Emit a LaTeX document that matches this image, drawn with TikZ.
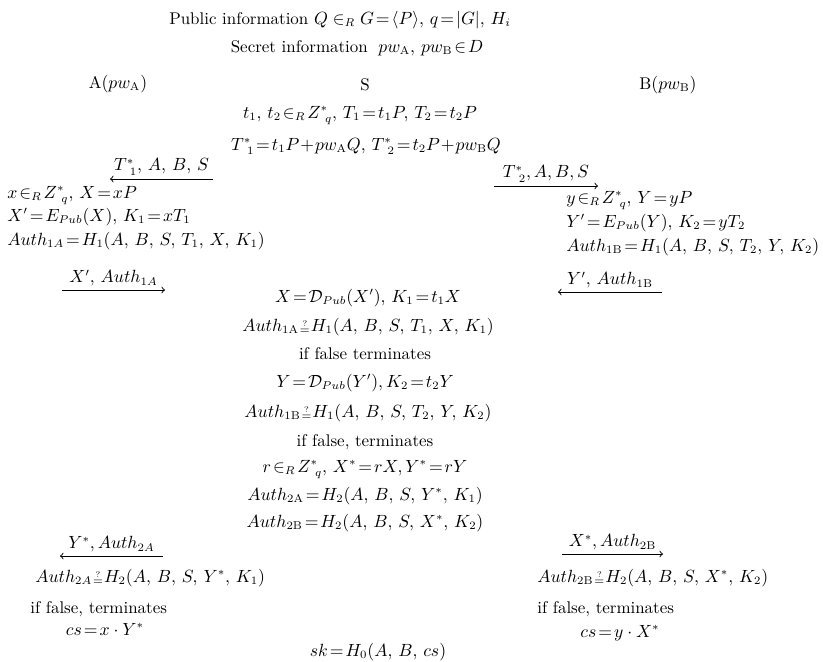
\documentclass[tikz,border=0pt]{standalone}
\usepackage{amsmath}
\tikzset{
  txt/.style={inner sep=0pt, anchor=base, font=\fontsize{10.5}{12}\selectfont},
  lefttxt/.style={txt, anchor=base west},
  msg/.style={->, line width=0.6pt},
  msglabel/.style={above=2pt, inner sep=0pt, font=\fontsize{10.5}{12}\selectfont}
}
\newcommand{\chkeq}{{\mkern1mu\lower0.3ex\hbox{$\scriptstyle\overset{?}{=}$}\mkern1mu}}
\newcommand{\inR}{\in_{R}}

\begin{document}
\begin{tikzpicture}[x=0.62pt, y=-0.62pt]
  \useasboundingbox (0,0) rectangle (823,661);
  % header
  \node[txt] (pub) at (340,24) {Public information \(Q\inR G\!=\!\langle P\rangle,\,q\!=\!|G|,\,H_i\)};
  \node[txt] (sec) at (357,52) {Secret information \(\;pw_{\mathrm{A}},\,pw_{\mathrm{B}}\!\in\! D\)};
  \node[txt] (pA) at (118,88) {A\((pw_{\mathrm{A}})\)};
  \node[txt] (pS) at (365,90) {S};
  \node[txt] (pB) at (668,89) {B\((pw_{\mathrm{B}})\)};
  \node[txt] (s1) at (360,118) {\(t_1,\,t_2\!\inR\! Z^*_{\ q},\,T_1\!=\!t_1P,\,T_2\!=\!t_2P\)};
  \node[txt] (s2) at (366,150) {\(T^*_{\ 1}\!=\!t_1P\!+\!pw_{\mathrm{A}}Q,\,T^*_{\ 2}\!=\!t_2P\!+\!pw_{\mathrm{B}}Q\)};

  % first round
  \coordinate (m1s) at (213,179);
  \coordinate (m1e) at (110,179);
  \draw[msg] (m1s) -- node[msglabel] (m1l) {\(T^*_{\ 1},\,A,\,B,\,S\)} (m1e);
  \coordinate (m2s) at (494,186);
  \coordinate (m2e) at (598,186);
  \draw[msg] (m2s) -- node[msglabel] (m2l) {\(T^*_{\ 2},A,B,S\)} (m2e);

  \node[lefttxt] (a1) at (7,198) {\(x\!\inR\! Z^*_{\ q},\,X\!=\!xP\)};
  \node[lefttxt] (a2) at (7,221) {\(X'\!=\!E_{Pub}(X),\,K_1\!=\!xT_1\)};
  \node[lefttxt] (a3) at (7,245) {\(Auth_{1A}\!=\!H_1(A,\,B,\,S,\,T_1,\,X,\,K_1)\)};
  \node[lefttxt] (b1) at (566,203) {\(y\!\inR\! Z^*_{\ q},\,Y\!=\!yP\)};
  \node[lefttxt] (b2) at (566,227) {\(Y'\!=\!E_{Pub}(Y),\,K_2\!=\!yT_2\)};
  \node[lefttxt] (b3) at (566,251) {\(Auth_{1\mathrm{B}}\!=\!H_1(A,\,B,\,S,\,T_2,\,Y,\,K_2)\)};

  % second round
  \coordinate (m3s) at (62,290);
  \coordinate (m3e) at (165,290);
  \draw[msg] (m3s) -- node[msglabel] (m3l) {\(X',\,Auth_{1A}\)} (m3e);
  \coordinate (m4s) at (662,292);
  \coordinate (m4e) at (558,292);
  \draw[msg] (m4s) -- node[msglabel] (m4l) {\(Y',\,Auth_{1\mathrm{B}}\)} (m4e);

  % server checks
  \node[txt] (c1) at (368,302) {\(X\!=\!\mathcal{D}_{Pub}(X'),\,K_1\!=\!t_1X\)};
  \node[txt] (c2) at (368,331) {\(Auth_{1\mathrm{A}}\chkeq H_1(A,\,B,\,S,\,T_1,\,X,\,K_1)\)};
  \node[txt] (c3) at (365,359) {if false terminates};
  \node[txt] (c4) at (365,387) {\(Y\!=\!\mathcal{D}_{Pub}(Y'),K_2\!=\!t_2Y\)};
  \node[txt] (c5) at (368,417) {\(Auth_{1\mathrm{B}}\chkeq H_1(A,\,B,\,S,\,T_2,\,Y,\,K_2)\)};
  \node[txt] (c6) at (365,446) {if false, terminates};
  \node[txt] (c7) at (365,472) {\(r\!\inR\! Z^*_{\ q},\,X^*\!=\!rX,Y^*\!=\!rY\)};
  \node[txt] (c8) at (365,500) {\(Auth_{2\mathrm{A}}\!=\!H_2(A,\,B,\,S,\,Y^*,\,K_1)\)};
  \node[txt] (c9) at (365,527) {\(Auth_{2\mathrm{B}}\!=\!H_2(A,\,B,\,S,\,X^*,\,K_2)\)};

  % third round
  \coordinate (m5s) at (163,556);
  \coordinate (m5e) at (60,556);
  \draw[msg] (m5s) -- node[msglabel] (m5l) {\(Y^*,Auth_{2A}\)} (m5e);
  \coordinate (m6s) at (562,554);
  \coordinate (m6e) at (663,554);
  \draw[msg] (m6s) -- node[msglabel] (m6l) {\(X^*,Auth_{2\mathrm{B}}\)} (m6e);

  \node[lefttxt] (a4) at (35,582) {\(Auth_{2A}\chkeq H_2(A,\,B,\,S,\,Y^*,\,K_1)\)};
  \node[lefttxt] (a5) at (30,613) {if false, terminates};
  \node[txt] (a6) at (105,635) {\(cs\!=\!x\cdot Y^*\)};
  \node[lefttxt] (b4) at (537,582) {\(Auth_{2\mathrm{B}}\chkeq H_2(A,\,B,\,S,\,X^*,\,K_2)\)};
  \node[lefttxt] (b5) at (537,613) {if false, terminates};
  \node[txt] (b6) at (620,637) {\(cs\!=\!y\cdot X^*\)};

  \node[txt] (sk) at (378,656) {\(sk\!=\!H_0(A,\,B,\,cs)\)};
\end{tikzpicture}
\end{document}
